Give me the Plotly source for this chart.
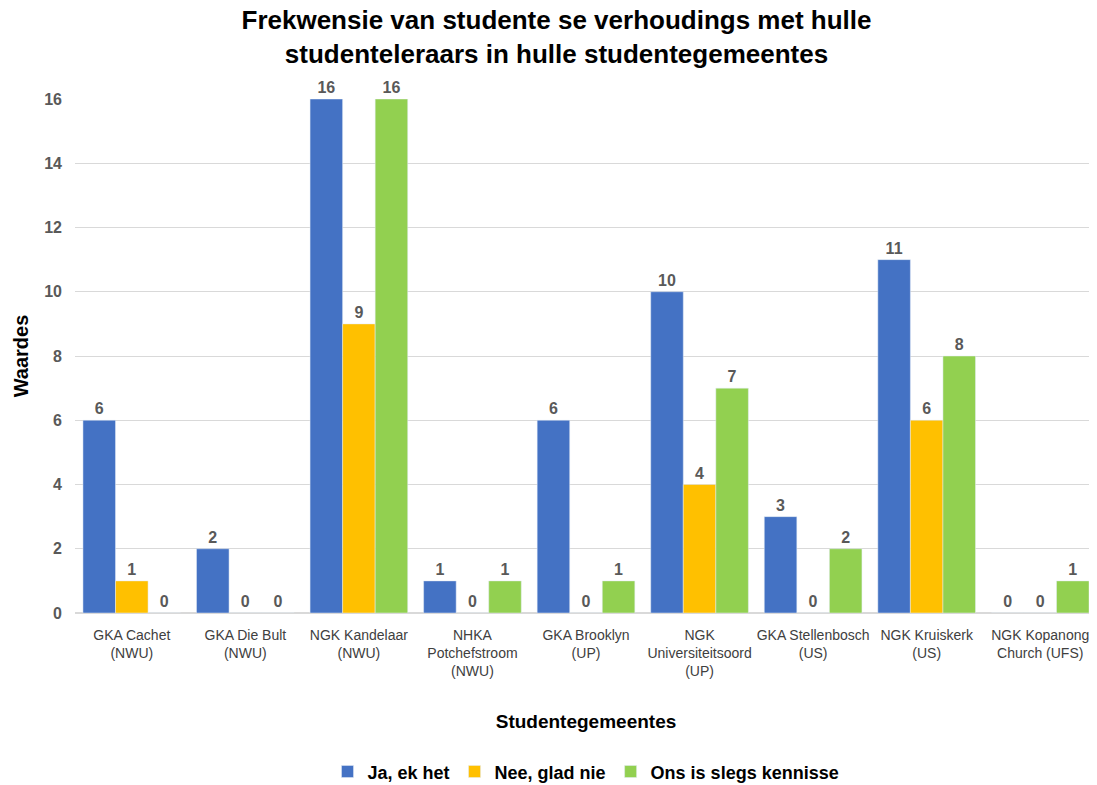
import plotly.graph_objects as go

categories = [
    "GKA Cachet<br>(NWU)", "GKA Die Bult<br>(NWU)", "NGK Kandelaar<br>(NWU)",
    "NHKA<br>Potchefstroom<br>(NWU)", "GKA Brooklyn<br>(UP)", "NGK<br>Universiteitsoord<br>(UP)",
    "GKA Stellenbosch<br>(US)", "NGK Kruiskerk<br>(US)", "NGK Kopanong<br>Church (UFS)",
]
ja = [6, 2, 16, 1, 6, 10, 3, 11, 0]
nee = [1, 0, 9, 0, 0, 4, 0, 6, 0]
kennisse = [0, 0, 16, 1, 1, 7, 2, 8, 1]
series_names = ["Ja, ek het", "Nee, glad nie", "Ons is slegs kennisse"]
colors = ["#4472C4", "#FFC000", "#92D050"]

fig = go.Figure()
for name, vals, col in zip(series_names, [ja, nee, kennisse], colors):
    fig.add_trace(go.Bar(
        x=categories, y=vals, name=name, marker_color=col,
        text=[str(v) for v in vals], textposition="outside",
        textfont=dict(family="Liberation Sans, Arial", size=16, color="#595959", weight="bold"),
        cliponaxis=False,
    ))

fig.update_layout(
    width=1097, height=785,
    paper_bgcolor="white", plot_bgcolor="white",
    barmode="group", bargap=0.14, bargroupgap=0,
    margin=dict(l=67, r=8, t=91, b=180),
    title=dict(
        text="<b>Frekwensie van studente se verhoudings met hulle<br>studenteleraars in hulle studentegemeentes</b>",
        x=0.5, xanchor="center", y=0.973, yanchor="top",
        font=dict(family="Liberation Sans, Arial", size=26, color="#000000"),
    ),
    font=dict(family="Liberation Sans, Arial"),
    xaxis=dict(
        automargin=False, tickangle=0,
        tickfont=dict(family="Liberation Sans, Arial", size=14, color="#404040"),
        title=dict(text="<b>Studentegemeentes</b>", font=dict(size=19, color="#000000"), standoff=36),
        showline=True, linecolor="#D9D9D9", ticks="", ticklabelstandoff=9,
    ),
    yaxis=dict(
        automargin=False,
        range=[0, 16], dtick=2,
        tickfont=dict(size=16, color="#595959", weight="bold"),
        gridcolor="#D9D9D9", zeroline=True, zerolinecolor="#D9D9D9",
        title=dict(text="<b>Waardes</b>", font=dict(size=20, color="#000000"), standoff=10),
        ticklabelstandoff=12,
    ),
    legend=dict(
        orientation="h", x=0.5, xanchor="center",
        yref="container", y=0.027, yanchor="middle",
        font=dict(size=18, color="#000000", weight="bold"),
        itemwidth=30, traceorder="normal",
    ),
)

fig.write_html("out.html")
